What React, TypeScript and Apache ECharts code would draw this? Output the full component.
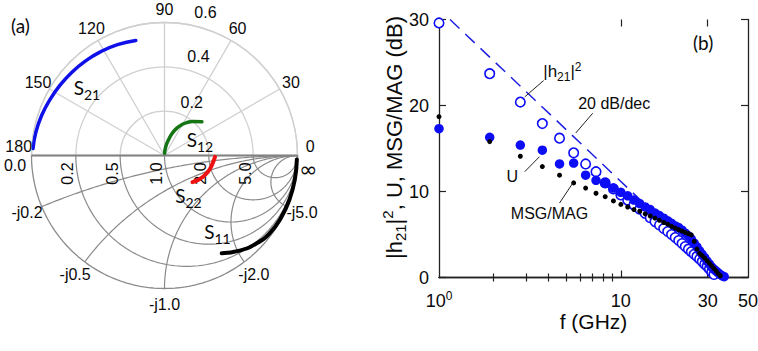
import React, { useEffect, useRef } from "react";
import * as echarts from "echarts";

// ---------------- Panel (a): polar (upper half) + Smith chart (lower half) ----------------
const angleTicks = [0, 30, 60, 90, 120, 150, 180];
const radiusTicks = [0.2, 0.4, 0.6];
const radiusLabelAngles = [63, 71, 74];
const resistanceTicks = [0.2, 0.5, 1.0, 2.0, 5.0];
const resistanceLabels = ["0.2", "0.5", "1.0", "2.0", "5.0"];
const reactanceTicks = [-0.2, -0.5, -1.0, -2.0, -5.0];
const reactanceLabels = ["-j0.2", "-j0.5", "-j1.0", "-j2.0", "-j5.0"];
const realAxisEndLabels = ["0.0", "∞"];

// S21 and S12 (polar: magnitude, angle in degrees)
const s21Mag = [0.594, 0.59, 0.583, 0.575, 0.568, 0.562, 0.556, 0.55, 0.543, 0.535];
const s21Ang = [177, 170, 162, 154, 146, 138, 130, 122, 113, 104];
const s12Mag = [0.01, 0.04, 0.072, 0.105, 0.134, 0.158, 0.179, 0.2, 0.227];
const s12Ang = [88, 82, 76, 71, 66, 61, 56, 50, 42];
// S11 and S22 (reflection coefficient plane: real, imaginary)
const s11Re = [0.995, 0.98, 0.94, 0.875, 0.79, 0.685, 0.565, 0.43];
const s11Im = [-0.03, -0.18, -0.33, -0.47, -0.585, -0.665, -0.715, -0.735];
const s22Re = [0.38, 0.365, 0.345, 0.32, 0.29, 0.25, 0.21];
const s22Im = [-0.01, -0.05, -0.095, -0.13, -0.16, -0.185, -0.2];

// ---------------- Panel (b): gains vs frequency ----------------
const freqGHz = [
  1.0, 1.9, 2.8, 3.7, 4.6, 5.5, 6.4, 7.3, 8.2, 9.1, 10.0, 10.9, 11.8, 12.7, 13.6, 14.5, 15.4, 16.3, 17.2, 18.1,
  19.0, 19.9, 20.8, 21.7, 22.6, 23.5, 24.4, 25.3, 26.2, 27.1, 28.0, 28.9, 29.8, 30.7, 31.6, 32.5, 33.4, 34.3, 35.2,
  36.1, 37.0,
];
const h21dB = [
  29.6, 23.7, 20.4, 17.9, 16.2, 14.5, 13.2, 12.3, 11.0, 10.3, 9.6, 9.0, 8.45, 7.95, 7.45, 6.95, 6.5, 6.1, 5.7, 5.35,
  5.0, 4.65, 4.3, 3.95, 3.6, 3.3, 3.0, 2.7, 2.45, 2.15, 1.85, 1.55, 1.3, 1.0, 0.65, 0.35,
];
const uDB = [
  17.3, 16.3, 15.4, 14.8, 13.2, 13.3, 11.9, 11.3, 10.95, 10.4, 9.9, 9.5, 9.0, 8.6, 8.2, 7.9, 7.5, 7.2, 6.9, 6.6,
  6.3, 6.0, 5.8, 5.5, 5.15, 4.85, 4.45, 4.0, 3.55, 3.1, 2.7, 2.3, 1.9, 1.55, 1.2, 0.95, 0.75, 0.55, 0.35, 0.2, 0.1,
];
const msgDB = [
  18.7, 15.8, 14.1, 12.9, 11.9, 11.0, 10.4, 9.8, 9.4, 8.9, 8.5, 8.2, 7.9, 7.7, 7.4, 7.15, 6.9, 6.65, 6.4, 6.2,
  5.95, 5.75, 5.55, 5.4, 5.25, 5.1, 4.95, 4.2, 3.3, 2.8, 2.55, 2.25, 1.95, 1.65, 1.35, 1.05, 0.75, 0.45, 0.2,
];
const slopeF = [1.15, 36];
const slopeDB = [30, 0];
const xLabelValues = [1, 10, 30, 50];
const xMinorTicks = [2, 3, 4, 5, 6, 7, 8, 9];
const xMajorTicks = [10, 30];
const yTicks = [0, 10, 20, 30];

const annotationTexts = ["{n||h}{sub|21}{n||}{sup|2}", "20 dB/dec", "U", "MSG/MAG"];
const annotationF = [4.77, 9.19, 2.53, 4.05];
const annotationDB = [23.95, 20.26, 11.74, 7.47];
const leaderF = [[2.96, 3.76], [5.65, 7.0], [2.96, 3.57], [4.6, 5.43]];
const leaderDB = [[21.0, 22.9], [16.8, 19.1], [12.3, 14.05], [8.66, 10.95]];
const yAxisTitle = "{n||h}{sub|21}{n||}{sup|2}{n|, U, MSG/MAG (dB)}";

const FONT = "Liberation Sans";
const BLUE = "#0c0cf5";
const INK = "#0a0a0a";
const POLAR_GRID = "#d0d0d0";
const SMITH_GRID = "#8a8a8a";

const zip = (a: number[], b: number[]) => a.map((v, i) => [v, b[i]]);

function resistanceCircle(r: number) {
  const a = r / (1 + r);
  const R = 1 / (1 + r);
  const pts: number[][] = [];
  for (let i = 0; i <= 120; i++) {
    const p = -Math.PI + (Math.PI * i) / 120;
    pts.push([a + R * Math.cos(p), R * Math.sin(p)]);
  }
  return pts;
}
function gammaOfReactance(x: number) {
  const d = x * x + 1;
  return [(x * x - 1) / d, (2 * x) / d];
}
function reactanceArc(x: number) {
  const c = 1 / Math.abs(x);
  const g = gammaOfReactance(x);
  let tEnd = Math.atan2(g[1] + c, g[0] - 1);
  if (tEnd < Math.PI / 2) tEnd += 2 * Math.PI;
  const pts: number[][] = [];
  for (let i = 0; i <= 120; i++) {
    const t = Math.PI / 2 + ((tEnd - Math.PI / 2) * i) / 120;
    pts.push([1 + c * Math.cos(t), -c + c * Math.sin(t)]);
  }
  return pts;
}

const sRich = {
  s: { fontFamily: "Lato", fontSize: 19, lineHeight: 24, verticalAlign: "top", color: INK },
  sub: { fontFamily: "Lato", fontSize: 14, lineHeight: 14, verticalAlign: "bottom", color: INK },
};

function buildOption(): any {
  const series: any[] = [];
  const smithLine = (data: number[][], color: string, width: number) => ({
    type: "line",
    xAxisIndex: 4,
    yAxisIndex: 2,
    data,
    symbol: "none",
    silent: true,
    clip: false,
    lineStyle: { color, width },
    z: 1,
  });
  series.push(smithLine(resistanceCircle(0), SMITH_GRID, 1.3));
  resistanceTicks.forEach((r) => series.push(smithLine(resistanceCircle(r), SMITH_GRID, 1.2)));
  reactanceTicks.forEach((x) => series.push(smithLine(reactanceArc(x), SMITH_GRID, 1.2)));
  series.push(smithLine([[-1, 0], [1, 0]], "#828282", 2));

  const labelScatterBase = {
    type: "scatter",
    symbolSize: 0,
    clip: false,
    silent: true,
    itemStyle: { opacity: 1 },
    z: 3,
  };
  // Smith chart axis labels
  series.push({
    ...labelScatterBase,
    xAxisIndex: 4,
    yAxisIndex: 2,
    data: resistanceTicks.map((r, i) => ({
      name: resistanceLabels[i],
      value: [(r - 1) / (r + 1) - 8 / 133, -18 / 133],
    })),
    label: { show: true, position: "inside", rotate: 90, formatter: "{b}", fontSize: 16, color: INK, fontFamily: FONT },
  });
  series.push({
    ...labelScatterBase,
    xAxisIndex: 4,
    yAxisIndex: 2,
    data: [{ name: realAxisEndLabels[0], value: [-1 - 16.5 / 133, -9.5 / 133] }],
    label: { show: true, position: "inside", rotate: 0, formatter: "{b}", fontSize: 16, color: INK, fontFamily: FONT },
  });
  series.push({
    ...labelScatterBase,
    xAxisIndex: 4,
    yAxisIndex: 2,
    data: reactanceTicks.map((x, i) => {
      const g = gammaOfReactance(x);
      return { name: reactanceLabels[i], value: [g[0] * 1.12, g[1] * 1.12] };
    }),
    label: { show: true, position: "inside", rotate: 0, formatter: "{b}", fontSize: 16, color: INK, fontFamily: FONT },
  });

  // S11, S22
  series.push({
    type: "line",
    xAxisIndex: 4,
    yAxisIndex: 2,
    data: zip(s11Re, s11Im),
    symbol: "none",
    smooth: true,
    clip: false,
    lineStyle: { color: "#000000", width: 4, cap: "round" },
    z: 5,
  });
  series.push({
    type: "line",
    xAxisIndex: 4,
    yAxisIndex: 2,
    data: zip(s22Re, s22Im),
    symbol: "none",
    smooth: true,
    clip: false,
    lineStyle: { color: "#ee1111", width: 4, cap: "round" },
    z: 5,
  });
  series.push({
    ...labelScatterBase,
    xAxisIndex: 4,
    yAxisIndex: 2,
    data: [
      { name: "{s|S}{sub|22}", value: [0.18, -0.316] },
      { name: "{s|S}{sub|11}", value: [0.398, -0.59] },
    ],
    label: { show: true, position: "inside", rotate: 0, formatter: "{b}", rich: sRich },
    z: 6,
  });

  // Polar: S21, S12 and labels
  series.push({
    type: "line",
    coordinateSystem: "polar",
    data: zip(s21Mag, s21Ang),
    symbol: "none",
    smooth: true,
    clip: false,
    lineStyle: { color: "#1010e8", width: 3.5, cap: "round" },
    z: 5,
  });
  series.push({
    type: "line",
    coordinateSystem: "polar",
    data: zip(s12Mag, s12Ang),
    symbol: "none",
    smooth: true,
    clip: false,
    lineStyle: { color: "#157515", width: 3.5, cap: "round" },
    z: 5,
  });
  series.push({
    ...labelScatterBase,
    coordinateSystem: "polar",
    data: angleTicks.map((a) => ({ name: String(a), value: [0.659, a === 0 ? 3.5 : a === 180 ? 176.5 : a] })),
    label: { show: true, position: "inside", rotate: 0, formatter: "{b}", fontSize: 16, color: INK, fontFamily: FONT },
  });
  series.push({
    ...labelScatterBase,
    coordinateSystem: "polar",
    data: radiusTicks.map((r, i) => ({ name: r.toFixed(1), value: [r + 0.07, radiusLabelAngles[i]] })),
    label: { show: true, position: "inside", rotate: 0, formatter: "{b}", fontSize: 16, color: INK, fontFamily: FONT },
  });
  series.push({
    ...labelScatterBase,
    coordinateSystem: "polar",
    data: [
      { name: "{s|S}{sub|21}", value: [0.458, 139.8] },
      { name: "{s|S}{sub|12}", value: [0.172, 21.5] },
    ],
    label: { show: true, position: "inside", rotate: 0, formatter: "{b}", rich: sRich },
    z: 6,
  });

  // ---------- Panel (b) series ----------
  series.push({
    type: "line",
    xAxisIndex: 0,
    yAxisIndex: 0,
    data: zip(slopeF, slopeDB),
    symbol: "none",
    lineStyle: { color: "#2020e0", width: 1.5, type: [13, 8] },
    z: 1,
  });
  series.push({
    type: "scatter",
    xAxisIndex: 0,
    yAxisIndex: 0,
    data: zip(freqGHz.slice(0, h21dB.length), h21dB),
    symbol: "circle",
    symbolSize: 9.5,
    itemStyle: { color: "#ffffff", borderColor: BLUE, borderWidth: 1.6, opacity: 1 },
    z: 2,
  });
  series.push({
    type: "scatter",
    xAxisIndex: 0,
    yAxisIndex: 0,
    data: zip(freqGHz.slice(0, uDB.length), uDB),
    symbol: "circle",
    symbolSize: 9.5,
    itemStyle: { color: BLUE, opacity: 1 },
    z: 3,
  });
  series.push({
    type: "scatter",
    xAxisIndex: 0,
    yAxisIndex: 0,
    data: zip(freqGHz.slice(0, msgDB.length), msgDB),
    symbol: "circle",
    symbolSize: 5,
    itemStyle: { color: "#000000", opacity: 1 },
    z: 4,
  });
  leaderF.forEach((fs, i) =>
    series.push({
      type: "line",
      xAxisIndex: 0,
      yAxisIndex: 0,
      data: zip(fs, leaderDB[i]),
      symbol: "none",
      silent: true,
      lineStyle: { color: "#222222", width: 1 },
      z: 5,
    })
  );
  series.push({
    ...labelScatterBase,
    xAxisIndex: 0,
    yAxisIndex: 0,
    data: annotationTexts.map((t, i) => ({ name: t, value: [annotationF[i], annotationDB[i]] })),
    label: {
      show: true,
      position: "inside",
      rotate: 0,
      formatter: "{b}",
      fontSize: 16,
      color: INK,
      fontFamily: FONT,
      rich: {
        n: { fontSize: 17, fontFamily: FONT, color: INK, lineHeight: 22 },
        sub: { fontSize: 12, fontFamily: FONT, color: INK, lineHeight: 12, verticalAlign: "bottom" },
        sup: { fontSize: 12, fontFamily: FONT, color: INK, lineHeight: 12, verticalAlign: "top" },
      },
    },
    z: 6,
  });

  const axisLineStyle = { color: "#222222", width: 1.3 };
  const logBase = {
    type: "log",
    logBase: 10,
    min: 1,
    max: 50,
    gridIndex: 0,
    splitLine: { show: false },
    minorTick: { show: false },
    minorSplitLine: { show: false },
  };
  const shortTicks = { show: true, inside: true, length: 4, customValues: xMinorTicks, lineStyle: { color: "#222222", width: 1.2 } };
  const longTicks = { show: true, inside: true, length: 7, customValues: xMajorTicks, lineStyle: { color: "#222222", width: 1.2 } };

  return {
    animation: false,
    backgroundColor: "#ffffff",
    textStyle: { fontFamily: FONT },
    grid: [
      { left: 439, top: 19.5, width: 309, height: 258, containLabel: false, outerBoundsMode: "none" },
      { left: 31.5, top: 155.5, width: 266, height: 133, containLabel: false, outerBoundsMode: "none" },
    ],
    polar: { center: [164.5, 155.5], radius: 133 },
    angleAxis: {
      type: "value",
      min: 0,
      max: 180,
      interval: 30,
      startAngle: 0,
      endAngle: 180,
      clockwise: false,
      axisLine: { show: true, lineStyle: { color: POLAR_GRID, width: 1.3 } },
      axisTick: { show: false },
      axisLabel: { show: false },
      splitLine: { show: true, lineStyle: { color: POLAR_GRID, width: 1.3 } },
    },
    radiusAxis: {
      type: "value",
      min: 0,
      max: 0.6,
      interval: 0.2,
      axisLine: { show: false },
      axisTick: { show: false },
      axisLabel: { show: false },
      splitLine: { show: true, lineStyle: { color: POLAR_GRID, width: 1.3 } },
    },
    xAxis: [
      {
        ...logBase,
        position: "bottom",
        axisLine: { show: true, lineStyle: axisLineStyle },
        axisTick: shortTicks,
        axisLabel: {
          show: true,
          customValues: xLabelValues,
          margin: 12,
          fontSize: 18,
          color: INK,
          fontFamily: FONT,
          formatter: (v: number) => (Math.abs(v - 1) < 1e-6 ? "{n|10}{sup|0}" : "{n|" + String(Math.round(v)) + "}"),
          rich: {
            n: { fontSize: 18, fontFamily: FONT, color: INK, lineHeight: 22 },
            sup: { fontSize: 12, fontFamily: FONT, color: INK, lineHeight: 12, verticalAlign: "top" },
          },
        },
        name: "f (GHz)",
        nameLocation: "middle",
        nameGap: 33,
        nameMoveOverlap: false,
        nameTextStyle: { fontSize: 21, color: INK, fontFamily: FONT },
      },
      { ...logBase, position: "top", axisLine: { show: true, lineStyle: axisLineStyle }, axisTick: shortTicks, axisLabel: { show: false } },
      { ...logBase, position: "bottom", axisLine: { show: false }, axisTick: longTicks, axisLabel: { show: false } },
      { ...logBase, position: "top", axisLine: { show: false }, axisTick: longTicks, axisLabel: { show: false } },
      { type: "value", gridIndex: 1, min: -1, max: 1, show: false },
    ],
    yAxis: [
      {
        type: "value",
        gridIndex: 0,
        position: "left",
        min: yTicks[0],
        max: yTicks[yTicks.length - 1],
        interval: 10,
        axisLine: { show: true, lineStyle: axisLineStyle },
        axisTick: { show: true, inside: true, length: 7, lineStyle: { color: "#222222", width: 1.2 } },
        axisLabel: { show: true, fontSize: 18, color: INK, margin: 10, fontFamily: FONT },
        splitLine: { show: false },
      },
      {
        type: "value",
        gridIndex: 0,
        position: "right",
        min: yTicks[0],
        max: yTicks[yTicks.length - 1],
        interval: 10,
        axisLine: { show: true, lineStyle: axisLineStyle },
        axisTick: { show: true, inside: true, length: 7, lineStyle: { color: "#222222", width: 1.2 } },
        axisLabel: { show: false },
        splitLine: { show: false },
      },
      { type: "value", gridIndex: 1, min: -1, max: 0, show: false },
    ],
    graphic: [
      { type: "text", left: 11, top: 16, style: { text: "(a)", font: "19px Lato", fill: INK } },
      { type: "text", left: 693, top: 33, style: { text: "(b)", font: "19px Lato", fill: INK } },
      {
        type: "text",
        x: 308.5,
        y: 169,
        style: { text: realAxisEndLabels[1], font: "22px 'DejaVu Sans'", fill: INK, align: "center", verticalAlign: "middle" },
      },
      {
        type: "text",
        x: 394,
        y: 137.5,
        rotation: Math.PI / 2,
        style: {
          text: yAxisTitle,
          align: "center",
          verticalAlign: "middle",
          rich: {
            n: { fontSize: 22, fontFamily: FONT, fill: INK, lineHeight: 28, verticalAlign: "middle" },
            sub: { fontSize: 15, fontFamily: FONT, fill: INK, lineHeight: 15, verticalAlign: "bottom" },
            sup: { fontSize: 15, fontFamily: FONT, fill: INK, lineHeight: 15, verticalAlign: "top" },
          },
        },
      },
    ],
    series,
  };
}

export default function App() {
  const ref = useRef<HTMLDivElement>(null);
  useEffect(() => {
    if (!ref.current) return;
    const chart = echarts.init(ref.current, null, { renderer: "svg" });
    chart.setOption(buildOption());
    return () => chart.dispose();
  }, []);
  return (
    <div
      ref={ref}
      style={{ position: "absolute", left: 0, top: 0, width: 758, height: 351, background: "#ffffff" }}
    />
  );
}
